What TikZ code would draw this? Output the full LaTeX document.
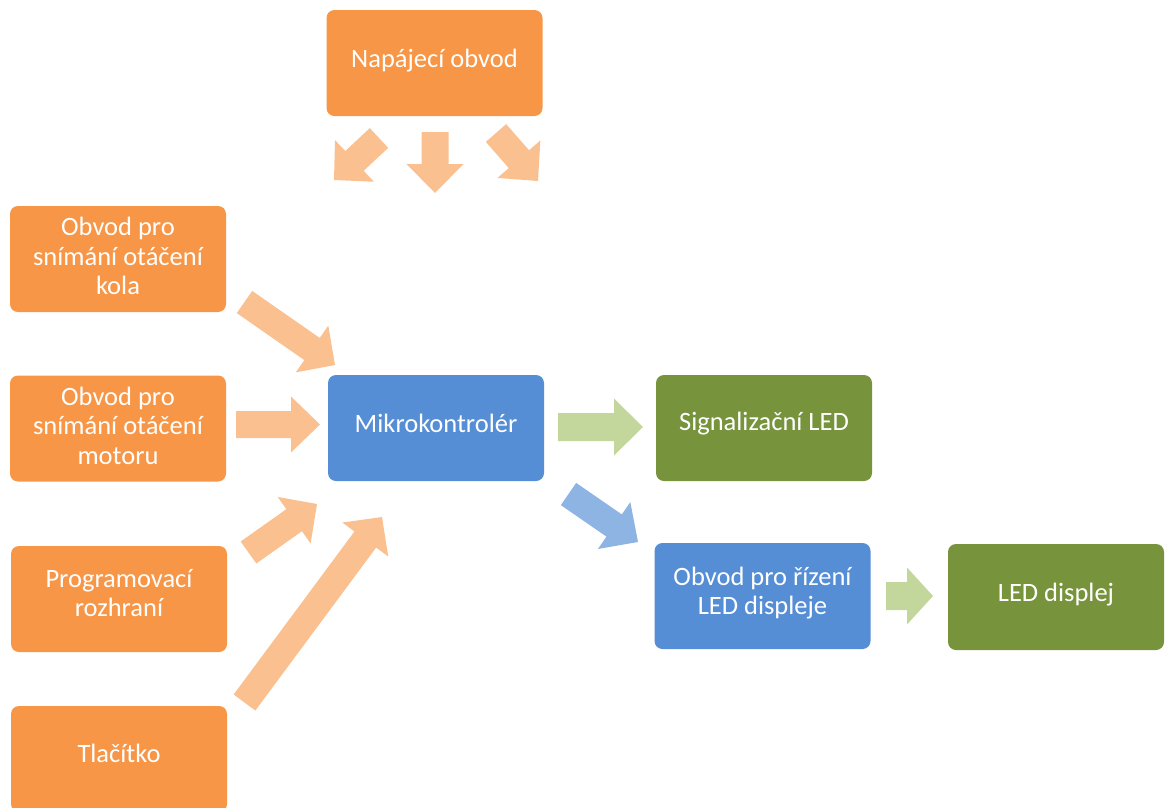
\documentclass[tikz,border=0pt]{standalone}
\usepackage{fontspec}
\setmainfont{Carlito}
\usetikzlibrary{calc}
\definecolor{boxor}{HTML}{F79646}
\definecolor{arror}{HTML}{FAC08F}
\definecolor{boxbl}{HTML}{558ED5}
\definecolor{arrbl}{HTML}{8EB4E3}
\definecolor{boxgr}{HTML}{77933C}
\definecolor{arrgr}{HTML}{C3D69B}
\newcommand\blockarr[6]{%
  \coordinate (hb) at ($(#3)!#6!(#2)$);
  \fill[#1] ($(#2)!#4!90:(#3)$) -- ($(hb)!#4!90:(#3)$) -- ($(hb)!#5!90:(#3)$) -- (#3)
    -- ($(hb)!#5!-90:(#3)$) -- ($(hb)!#4!-90:(#3)$) -- ($(#2)!#4!-90:(#3)$) -- cycle;}
\begin{document}
\begin{tikzpicture}[x=1pt,y=-1pt,
  box/.style={rounded corners=8pt, minimum width=216pt, minimum height=106pt, inner sep=0pt},
  obox/.style={box, fill=boxor},
  bbox/.style={box, fill=boxbl},
  gbox/.style={box, fill=boxgr},
  txt/.style={text=white, align=center, font=\fontsize{26.5}{29.5}\selectfont, inner sep=0pt}]
\useasboundingbox (0,0) rectangle (1165,807);
\clip (0,0) rectangle (1165,807);
% boxes
\node[obox] (nap) at (434.5,63) {};
\node[obox] (kola) at (118,259) {};
\node[obox] (mot) at (118,428.5) {};
\node[obox] (prog) at (119,599) {};
\node[obox] (tlac) at (119,759) {};
\node[bbox] (mikro) at (436,428) {};
\node[gbox] (sig) at (764,428) {};
\node[bbox] (ridi) at (762.5,596) {};
\node[gbox] (led) at (1056,597) {};
% texts
\node[txt] (napt) at ($(nap)+(0,-2)$) {Napájecí obvod};
\node[txt] (kolat) at ($(kola)+(0,-3)$) {Obvod pro\\snímání otáčení\\kola};
\node[txt] (mott) at ($(mot)+(0,-3)$) {Obvod pro\\snímání otáčení\\motoru};
\node[txt] (progt) at ($(prog)+(0,-6)$) {Programovací\\rozhraní};
\node[txt] (tlact) at ($(tlac)+(0,-6)$) {Tlačítko};
\node[txt] (mikrot) at ($(mikro)+(0,-5)$) {Mikrokontrolér};
\node[txt] (sigt) at ($(sig)+(0,-4)$) {Signalizační LED};
\node[txt] (ridit) at ($(ridi)+(0,-3)$) {Obvod pro řízení\\LED displeje};
\node[txt] (ledt) at ($(led)+(0,-2)$) {LED displej};
% arrow end points
\coordinate (a1s) at (379,138); \coordinate (a1e) at (334,180);
\coordinate (a2s) at (435,132); \coordinate (a2e) at (435,193);
\coordinate (a3s) at (496,133); \coordinate (a3e) at (538,181);
\coordinate (a4s) at (244.5,302); \coordinate (a4e) at (335,365);
\coordinate (a5s) at (236,424.5); \coordinate (a5e) at (320,424.5);
\coordinate (a6s) at (248.5,552.5); \coordinate (a6e) at (317,504);
\coordinate (a7s) at (244.5,702.5); \coordinate (a7e) at (382,517);
\coordinate (a8s) at (558,427); \coordinate (a8e) at (643,427);
\coordinate (a9s) at (568.5,494); \coordinate (a9e) at (638,542);
\coordinate (a10s) at (886,596); \coordinate (a10e) at (933,596);
% arrows
\blockarr{arror}{a1s}{a1e}{13.5pt}{28.5pt}{28pt}
\blockarr{arror}{a2s}{a2e}{13.5pt}{28.5pt}{29pt}
\blockarr{arror}{a3s}{a3e}{13.5pt}{28.5pt}{29pt}
\blockarr{arror}{a4s}{a4e}{13.5pt}{28.5pt}{28pt}
\blockarr{arror}{a5s}{a5e}{13.5pt}{28pt}{29pt}
\blockarr{arror}{a6s}{a6e}{13.5pt}{28.5pt}{28pt}
\blockarr{arror}{a7s}{a7e}{13.5pt}{28.5pt}{28pt}
\blockarr{arrgr}{a8s}{a8e}{14pt}{28.5pt}{29pt}
\blockarr{arrbl}{a9s}{a9e}{13.5pt}{28.5pt}{29pt}
\blockarr{arrgr}{a10s}{a10e}{14pt}{28.5pt}{26pt}
\end{tikzpicture}
\end{document}
